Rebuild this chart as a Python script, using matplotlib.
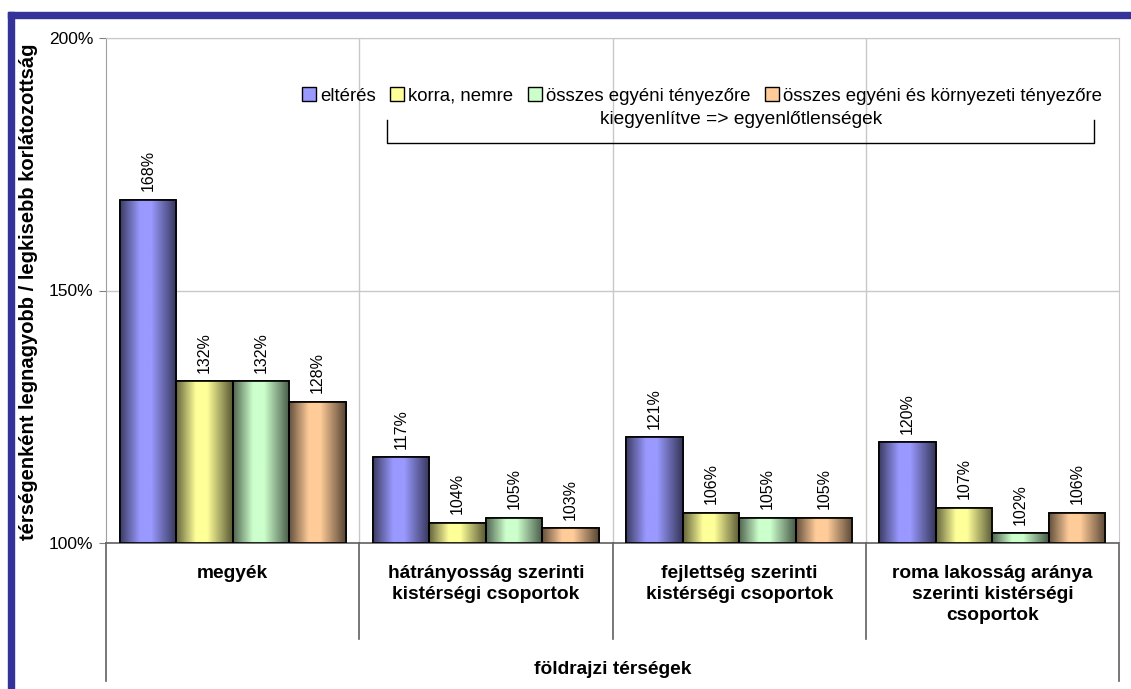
import numpy as np
import matplotlib
matplotlib.use('Agg')
import matplotlib.pyplot as plt
from matplotlib import font_manager
from matplotlib.patches import Rectangle, Patch
from matplotlib.colors import to_rgb

# adatok
kategoriak = ['megyék',
              'hátrányosság szerinti\nkistérségi csoportok',
              'fejlettség szerinti\nkistérségi csoportok',
              'roma lakosság aránya\nszerinti kistérségi\ncsoportok']
sorozatok = ['eltérés', 'korra, nemre', 'összes egyéni tényezőre',
             'összes egyéni és környezeti tényezőre']
elteres = [168, 132, 132, 128]
korra_nemre = [117, 104, 105, 103]
egyeni = [121, 106, 105, 105]
kornyezeti = [120, 107, 102, 106]
# csoportonként (kategória szerint)
ertekek = [elteres, korra_nemre, egyeni, kornyezeti]
szinek = ['#9999FF', '#FFFF99', '#CCFFCC', '#FFCC99']

plt.rcParams['font.family'] = ['Liberation Sans', 'DejaVu Sans']
nevek = {f.name for f in font_manager.fontManager.ttflist}
keskeny = 'Liberation Sans Narrow' if 'Liberation Sans Narrow' in nevek else 'Liberation Sans'
cimke_meret = 13 if keskeny == 'Liberation Sans Narrow' else 11.5

W, H = 1131, 689
fig = plt.figure(figsize=(W / 100, H / 100), dpi=100)
ax = fig.add_axes([106 / W, 1 - 543 / H, (1119 - 106) / W, (543 - 38) / H])

# kék keret
fig.patches.append(Rectangle((8 / W, 1 - 18 / H), 1 - 8 / W, 6 / H,
                             transform=fig.transFigure, color='#333399'))
fig.patches.append(Rectangle((8 / W, 0), 6 / W, 1 - 12 / H,
                             transform=fig.transFigure, color='#333399'))


def gradiens(c):
    t = np.linspace(0, 1, 64)
    f = np.interp(t, [0, 0.35, 0.55, 1], [0.4, 1.0, 1.0, 0.35])
    rgb = np.array(to_rgb(c))
    return (rgb[None, :] * f[:, None])[None, :, :]


szel = 0.223
x = np.arange(len(kategoriak))
for j in range(4):
    vals = [ertekek[i][j] for i in range(4)]
    pos = x + (j - 1.5) * szel
    bars = ax.bar(pos, np.array(vals) - 100, bottom=100, width=szel,
                  color=szinek[j], edgecolor='black', linewidth=1.2, zorder=3)
    img = gradiens(szinek[j])
    for b, v in zip(bars, vals):
        bx, bw = b.get_x(), b.get_width()
        im = ax.imshow(img, extent=(bx, bx + bw, 100, v), aspect='auto',
                       zorder=3.5, interpolation='bilinear')
        im.set_clip_path(b)
        ax.add_patch(Rectangle((bx, 100), bw, v - 100, fill=False,
                               edgecolor='black', linewidth=1.2, zorder=4))
        ax.annotate(f'{v}%', (bx + bw / 2, v), xytext=(0, 6),
                    textcoords='offset points', rotation=90, ha='center',
                    va='bottom', fontsize=cimke_meret, family=keskeny)

ax.set_xlim(-0.5, 3.5)
ax.set_ylim(100, 200)
ax.set_yticks([100, 150, 200])
ax.set_yticklabels(['100%', '150%', '200%'], fontsize=12.5)
ax.tick_params(axis='y', length=5, color='#808080', pad=4)
ax.set_xticks([])
ax.grid(axis='y', color='#c8c8c8', linewidth=1, zorder=0)
for xv in [0.5, 1.5, 2.5]:
    ax.axvline(xv, color='#c8c8c8', linewidth=1, zorder=0)
ax.spines['top'].set_color('#c8c8c8')
ax.spines['right'].set_color('#c8c8c8')
ax.spines['left'].set_color('#a0a0a0')
ax.spines['bottom'].set_color('#606060')
ax.spines['bottom'].set_linewidth(1.2)

# kategória elválasztók az tengely alatt
tr = ax.get_xaxis_transform()
for xv in [0.5, 1.5, 2.5]:
    ax.plot([xv, xv], [0, -0.19], color='#606060', lw=1.2, transform=tr, clip_on=False)
for xv in [-0.5, 3.5]:
    ax.plot([xv, xv], [0, -0.273], color='#606060', lw=1.2, transform=tr, clip_on=False)

for i, k in enumerate(kategoriak):
    ax.text(i, -0.043, k, transform=tr, ha='center', va='top', fontsize=13.8,
            fontweight='bold', linespacing=1.3)
ax.text(1.5, -0.25, 'földrajzi térségek', transform=tr, ha='center', va='center',
        fontsize=13.8, fontweight='bold')

fig.text(29 / W, 1 - 292 / H, 'térségenként legnagyobb / legkisebb korlátozottság',
         rotation=90, ha='center', va='center', fontsize=14.5, fontweight='bold')

# jelmagyarázat
handles = [Patch(facecolor=c, edgecolor='black', linewidth=1) for c in szinek]
ax.legend(handles, sorozatok, ncol=4, loc='center', frameon=False,
          bbox_to_anchor=((702 - 106) / (1119 - 106), (543 - 96) / 505),
          fontsize=13.4, handlelength=0.75, handleheight=0.8, handletextpad=0.2,
          columnspacing=0.8, borderaxespad=0)

# zárójel
ax.text((741 - 106) / (1119 - 106), (543 - 119) / 505,
        'kiegyenlítve => egyenlőtlenségek', transform=ax.transAxes,
        ha='center', va='center', fontsize=13.8)
bx0, bx1 = (387 - 106) / 1013, (1094 - 106) / 1013
by0, by1 = (543 - 143) / 505, (543 - 120) / 505
ax.plot([bx0, bx0, bx1, bx1], [by1, by0, by0, by1], color='black', lw=1,
        transform=ax.transAxes, clip_on=False)

fig.savefig('out.png', dpi=100)
